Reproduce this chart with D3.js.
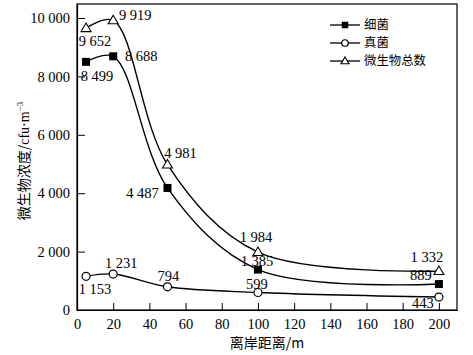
<!DOCTYPE html>
<html><head><meta charset="utf-8">
<script src="https://cdn.jsdelivr.net/npm/d3@7"></script>
<style>
html,body{margin:0;padding:0;background:#fff;}
svg{display:block;}
</style></head>
<body>
<script>
// ---- data ----
const distances = [5, 20, 50, 100, 200];
const bacteria = [8499, 8688, 4180, 1385, 889];
const bacteriaLabels = ["8 499", "8 688", "4 487", "1 385", "889"];
const fungi = [1153, 1231, 794, 599, 443];
const fungiLabels = ["1 153", "1 231", "794", "599", "443"];
const total = [9652, 9919, 4981, 1984, 1332];
const totalLabels = ["9 652", "9 919", "4 981", "1 984", "1 332"];
const xTicks = [0, 20, 40, 60, 80, 100, 120, 140, 160, 180, 200];
const yTicks = [0, 2000, 4000, 6000, 8000, 10000];
const seriesNames = ["细菌", "真菌", "微生物总数"];

// ---- layout ----
const W = 473, H = 355;
const L = 77, R = 457, T = 4, B = 310;
const serif = "'Liberation Serif','DejaVu Serif',serif";
const cjk = "'Noto Sans CJK SC','Liberation Serif',serif";

const svg = d3.select("body").append("svg").attr("width", W).attr("height", H);

const x = d3.scaleLinear().domain([0, 210]).range([L, R]);
const y = d3.scaleLinear().domain([0, 10480]).range([B, T]);

// frame
svg.append("rect").attr("x", L).attr("y", T).attr("width", R - L).attr("height", B - T)
  .attr("fill", "none").attr("stroke", "#000").attr("stroke-width", 1.2);

// axes
const xAxis = d3.axisBottom(x).tickValues(xTicks).tickSizeInner(-7).tickSizeOuter(0).tickPadding(9);
const gx = svg.append("g").attr("transform", `translate(0,${B})`).call(xAxis);
const yAxis = d3.axisLeft(y).tickValues(yTicks).tickSizeInner(-8).tickSizeOuter(0).tickPadding(7)
  .tickFormat(d => d3.format(",")(d).replace(/,/g, " "));
const gy = svg.append("g").attr("transform", `translate(${L},0)`).call(yAxis);
[gx, gy].forEach(g => {
  g.select(".domain").attr("stroke", "#000").attr("stroke-width", 1.2);
  g.selectAll(".tick line").attr("stroke", "#000").attr("stroke-width", 1);
  g.selectAll(".tick text").attr("font-family", serif).attr("font-size", 14.5).attr("fill", "#000");
});
gx.selectAll(".tick text").attr("dy", "0.71em");

// axis titles
svg.append("text").attr("x", (L + R) / 2).attr("y", 348).attr("text-anchor", "middle")
  .attr("font-family", cjk).attr("font-size", 14).attr("fill", "#000")
  .text("离岸距离/m");
const yt = svg.append("text").attr("transform", `translate(29,161) rotate(-90)`)
  .attr("text-anchor", "middle").attr("font-family", cjk).attr("font-size", 14).attr("fill", "#000");
yt.append("tspan").text("微生物浓度/");
yt.append("tspan").attr("font-family", serif).text("cfu·m");
yt.append("tspan").attr("font-family", serif).attr("font-size", 9).attr("dy", -6).text("−3");

// series
const series = [
  {name: seriesNames[0], vals: bacteria, labels: bacteriaLabels, marker: "square",
   offs: [[11, 14], [28, 0], [-25, 5], [-1, -9], [-18, -9]]},
  {name: seriesNames[1], vals: fungi, labels: fungiLabels, marker: "circle",
   offs: [[9, 13], [8, -11], [1, -11], [-1, -9], [-16, 6]]},
  {name: seriesNames[2], vals: total, labels: totalLabels, marker: "triangle",
   offs: [[9, 13], [22, -5], [13, -12], [-2, -15], [-12, -14]]}
];

const line = d3.line().curve(d3.curveCatmullRom.alpha(0.5)).x(d => x(d[0])).y(d => y(d[1]));

function drawMarker(g, type, cx, cy, s) {
  if (type === "square") {
    g.append("rect").attr("x", cx - s / 2).attr("y", cy - s / 2).attr("width", s).attr("height", s).attr("fill", "#000");
  } else if (type === "circle") {
    g.append("circle").attr("cx", cx).attr("cy", cy).attr("r", s / 2).attr("fill", "#fff")
      .attr("stroke", "#000").attr("stroke-width", 1.2);
  } else {
    const h = s * 0.85;
    g.append("path").attr("d", `M${cx},${cy - h * 0.6}L${cx + s / 2},${cy + h * 0.4}L${cx - s / 2},${cy + h * 0.4}Z`)
      .attr("fill", "#fff").attr("stroke", "#000").attr("stroke-width", 1.1);
  }
}

const plot = svg.append("g");
series.forEach(s => {
  const pts = distances.map((d, i) => [d, s.vals[i]]);
  plot.append("path").attr("d", line(pts)).attr("fill", "none").attr("stroke", "#000").attr("stroke-width", 1.4);
});
series.forEach(s => {
  distances.forEach((d, i) => {
    drawMarker(plot, s.marker, x(d), y(s.vals[i]), s.marker === "circle" ? 8 : (s.marker === "square" ? 8 : 10));
    plot.append("text").attr("x", x(d) + s.offs[i][0]).attr("y", y(s.vals[i]) + s.offs[i][1])
      .attr("dy", "0.35em").attr("text-anchor", "middle")
      .attr("font-family", serif).attr("font-size", 14.5).attr("fill", "#000").text(s.labels[i]);
  });
});

// legend
const leg = svg.append("g");
series.forEach((s, i) => {
  const ly = 25 + i * 18;
  leg.append("line").attr("x1", 330).attr("x2", 360).attr("y1", ly).attr("y2", ly)
    .attr("stroke", "#000").attr("stroke-width", 1.3);
  drawMarker(leg, s.marker, 345, ly, s.marker === "triangle" ? 8 : 6.5);
  leg.append("text").attr("x", 364).attr("y", ly).attr("dy", "0.35em")
    .attr("font-family", cjk).attr("font-size", 12.4).attr("fill", "#000").text(s.name);
});
</script>
</body></html>
